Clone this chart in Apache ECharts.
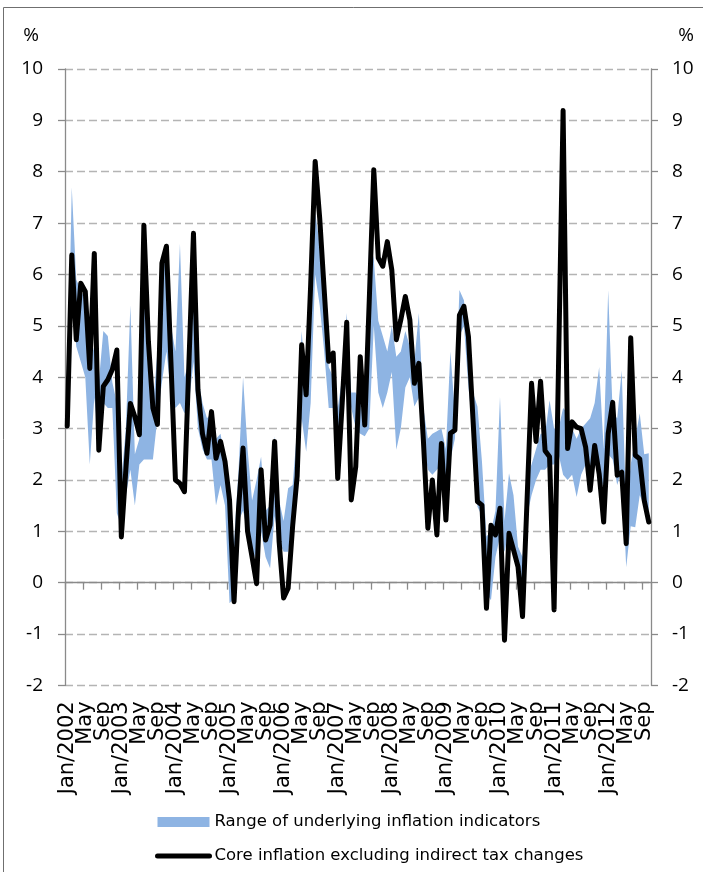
<!DOCTYPE html>
<html>
<head>
<meta charset="utf-8">
<style>
  html, body { margin: 0; padding: 0; background: #ffffff; }
  #chart { width: 703px; height: 872px; }
</style>
<script src="https://cdn.jsdelivr.net/npm/echarts/dist/echarts.min.js"></script>
</head>
<body>
<div id="chart"></div>
<script>
// Monthly observations, Jan 2002 – Oct 2012 (130 months)
const years = [2002, 2003, 2004, 2005, 2006, 2007, 2008, 2009, 2010, 2011, 2012];
const monthNames = ['Jan', 'Feb', 'Mar', 'Apr', 'May', 'Jun', 'Jul', 'Aug', 'Sep', 'Oct', 'Nov', 'Dec'];

// Axis labels shown every fourth month
const tickLabels = [
  'Jan/2002', 'May', 'Sep', 'Jan/2003', 'May', 'Sep', 'Jan/2004', 'May', 'Sep',
  'Jan/2005', 'May', 'Sep', 'Jan/2006', 'May', 'Sep', 'Jan/2007', 'May', 'Sep',
  'Jan/2008', 'May', 'Sep', 'Jan/2009', 'May', 'Sep', 'Jan/2010', 'May', 'Sep',
  'Jan/2011', 'May', 'Sep', 'Jan/2012', 'May', 'Sep'
];

// Core inflation excluding indirect tax changes, % (monthly)
const coreInflation = [
  3.05, 6.38, 4.73, 5.83, 5.67, 4.17, 6.41, 2.58, 3.82, 3.95,
  4.15, 4.53, 0.89, 2.2, 3.49, 3.23, 2.88, 6.96, 4.7, 3.4,
  3.08, 6.22, 6.55, 4.3, 2.0, 1.93, 1.77, 4.3, 6.8, 3.75,
  2.9, 2.52, 3.33, 2.42, 2.75, 2.36, 1.61, -0.37, 1.44, 2.62,
  1.0, 0.5, -0.02, 2.2, 0.83, 1.12, 2.75, 0.8, -0.3, -0.11,
  1.1, 2.07, 4.63, 3.66, 5.8, 8.2, 7.1, 5.7, 4.31, 4.47,
  2.03, 3.5, 5.07, 1.61, 2.26, 4.4, 3.07, 5.5, 8.04, 6.32,
  6.16, 6.64, 6.09, 4.73, 5.12, 5.57, 5.12, 3.88, 4.27, 2.78,
  1.06, 2.0, 0.93, 2.71, 1.22, 2.91, 2.97, 5.21, 5.38, 4.79,
  3.2, 1.58, 1.51, -0.5, 1.12, 0.93, 1.45, -1.12, 0.96, 0.64,
  0.31, -0.66, 1.6, 3.88, 2.75, 3.92, 2.57, 2.45, -0.53, 4.3,
  9.19, 2.61, 3.13, 3.03, 3.0, 2.64, 1.8, 2.67, 2.12, 1.18,
  2.9, 3.51, 2.09, 2.15, 0.76, 4.77, 2.48, 2.41, 1.6, 1.18
];

// Lowest of the underlying inflation indicators, %
const rangeLow = [
  3.0, 5.6, 4.6, 4.3, 4.0, 2.3, 3.6, 2.8, 3.5, 3.4,
  3.4, 1.35, 1.1, 1.7, 2.2, 1.5, 2.3, 2.4, 2.4, 2.4,
  3.2, 3.9, 4.5, 3.7, 3.4, 3.5, 3.3, 3.5, 4.3, 3.0,
  2.6, 2.4, 2.4, 1.5, 1.9, 1.5, -0.4, -0.3, 1.2, 1.4,
  1.0, 0.4, 0.6, 1.0, 0.5, 0.28, 1.3, 0.8, 0.6, 0.6,
  1.2, 1.9, 3.2, 2.55, 3.5, 6.0, 5.4, 4.5, 3.4, 3.4,
  2.1, 3.3, 4.0, 3.4, 3.0, 2.9, 2.85, 3.0, 5.0, 3.7,
  3.4, 3.7, 4.1, 2.59, 3.0, 3.8, 4.0, 3.43, 3.6, 2.7,
  2.2, 2.1, 2.2, 2.3, 1.5, 2.4, 2.8, 4.8, 5.0, 3.8,
  3.0, 1.48, 1.3, -0.2, -0.34, 0.5, 0.9, 0.6, 1.0, 0.5,
  0.3, 0.0, 1.3, 1.7, 2.0, 2.2, 2.2, 2.3, 2.3, 2.5,
  2.1, 2.0, 2.1, 1.67, 2.1, 2.3, 2.0, 2.3, 2.2, 1.8,
  2.5, 2.4, 1.9, 2.2, 0.3, 1.1, 1.08, 1.7, 1.5, 1.4
];

// Highest of the underlying inflation indicators, %
const rangeHigh = [
  3.4, 7.7, 5.9, 5.7, 5.5, 4.3, 4.6, 3.9, 4.9, 4.8,
  3.9, 3.5, 2.0, 3.0, 5.4, 2.5, 2.8, 5.8, 5.3, 3.4,
  4.5, 6.0, 6.4, 5.0, 4.5, 6.6, 4.0, 4.3, 6.3, 4.0,
  3.5, 3.2, 3.3, 2.8, 2.9, 2.4, 1.7, 0.8, 2.2, 4.0,
  2.6, 1.6, 2.0, 2.45, 1.4, 1.5, 2.85, 1.6, 1.2, 1.84,
  1.9, 3.0, 4.9, 3.7, 6.2, 7.2, 6.6, 5.5, 4.2, 4.0,
  3.4, 4.0, 5.25, 3.7, 3.7, 3.5, 3.1, 6.7, 6.3, 5.1,
  4.8, 4.5, 5.0, 4.4, 4.5, 4.9, 4.6, 4.3, 5.25, 3.4,
  2.8, 2.9, 2.95, 3.0, 2.6, 4.5, 3.3, 5.7, 5.5, 4.6,
  3.7, 3.43, 2.36, 0.9, 1.0, 1.4, 3.62, 1.2, 2.13, 1.7,
  0.7, 0.5, 2.06, 2.3, 2.6, 2.9, 2.9, 3.55, 3.0, 3.0,
  3.4, 3.3, 3.0, 2.8, 3.0, 3.1, 3.2, 3.5, 4.2, 2.6,
  5.7, 3.3, 3.2, 4.13, 1.4, 2.3, 2.8, 3.3, 2.5, 2.52
];

const RANGE_NAME = 'Range of underlying inflation indicators';
const CORE_NAME = 'Core inflation excluding indirect tax changes';

// Month categories
const months = [];
years.forEach(function (y) {
  monthNames.forEach(function (m) {
    if (months.length < coreInflation.length) months.push(m + '/' + y);
  });
});

// Band thickness stacked on top of the lower bound
const rangeSpan = rangeHigh.map(function (h, i) { return +(h - rangeLow[i]).toFixed(3); });

const BAND_BLUE = '#8EB4E3';
const AXIS_GREY = '#8a8a8a';
const numFont = '"Open Sans", "Noto Sans", sans-serif';
const textFont = '"DejaVu Sans", Verdana, sans-serif';

// Month labels sit every fourth month; they are split over two label rows
// at the same place so that neighbouring labels never collide.
function labelAxis(offsetMonths) {
  return {
    type: 'category',
    data: months,
    boundaryGap: true,
    position: 'bottom',
    axisLine: { show: false, onZero: false },
    axisTick: { show: false },
    splitLine: { show: false },
    axisLabel: {
      interval: function (index) { return index % 8 === offsetMonths; },
      rotate: 90,
      margin: 16,
      hideOverlap: false,
      showMinLabel: true,
      showMaxLabel: true,
      color: '#000',
      fontFamily: textFont,
      fontSize: 21,
      formatter: function (value, index) { return tickLabels[Math.round(index / 4)] || ''; }
    }
  };
}

const valueAxisBase = {
  type: 'value',
  min: -2,
  max: 10,
  interval: 1,
  axisLine: { show: true, lineStyle: { color: AXIS_GREY, width: 1.3 } },
  axisTick: { show: true, inside: false, length: 7, lineStyle: { color: AXIS_GREY, width: 1.3 } },
  axisLabel: { color: '#000', fontFamily: numFont, fontSize: 19 }
};

const chart = echarts.init(document.getElementById('chart'), null, { renderer: 'canvas' });

chart.setOption({
  animation: false,
  backgroundColor: '#ffffff',
  textStyle: { fontFamily: textFont },
  grid: { left: 65, right: 52, top: 69, bottom: 186.6, containLabel: false, outerBoundsMode: 'none' },
  xAxis: [
    {
      // axis line drawn through zero, with a tick every four months
      type: 'category',
      data: months,
      boundaryGap: true,
      position: 'bottom',
      axisLine: { show: true, onZero: true, lineStyle: { color: AXIS_GREY, width: 1.3 } },
      axisTick: { show: true, interval: 3, length: 7, lineStyle: { color: AXIS_GREY, width: 1.3 } },
      axisLabel: { show: false },
      splitLine: { show: false }
    },
    labelAxis(0),
    labelAxis(4)
  ],
  yAxis: [
    Object.assign({}, valueAxisBase, {
      position: 'left',
      axisLabel: Object.assign({}, valueAxisBase.axisLabel, { margin: 22 }),
      splitLine: { show: true, lineStyle: { color: '#b4b4b4', width: 1.3, type: [8, 4] } }
    }),
    Object.assign({}, valueAxisBase, {
      position: 'right',
      axisLabel: Object.assign({}, valueAxisBase.axisLabel, { margin: 21 }),
      splitLine: { show: false }
    })
  ],
  legend: {
    orient: 'vertical',
    left: 155,
    top: 812,
    padding: 0,
    itemGap: 14,
    itemWidth: 52,
    itemHeight: 10,
    selectedMode: false,
    textStyle: { fontFamily: textFont, fontSize: 16.5, color: '#000', lineHeight: 20 },
    data: [
      { name: RANGE_NAME, icon: 'rect', itemStyle: { color: BAND_BLUE } },
      {
        name: CORE_NAME,
        lineStyle: { color: '#000', width: 5, cap: 'round' },
        itemStyle: { color: 'rgba(0,0,0,0)', borderColor: 'rgba(0,0,0,0)', borderWidth: 0 }
      }
    ]
  },
  graphic: [
    {
      type: 'polyline',
      silent: true,
      shape: { points: [[3.5, 872], [3.5, 7.5], [703, 7.5]] },
      style: { stroke: '#6f6f6f', lineWidth: 1, fill: null }
    },
    {
      type: 'text', x: 31, y: 36, silent: true,
      style: { text: '%', font: '19px "Open Sans"', fill: '#000', align: 'center', verticalAlign: 'middle' }
    },
    {
      type: 'text', x: 686, y: 36, silent: true,
      style: { text: '%', font: '19px "Open Sans"', fill: '#000', align: 'center', verticalAlign: 'middle' }
    }
  ],
  series: [
    {
      name: 'rangeLow',
      type: 'line',
      data: rangeLow,
      stack: 'range',
      stackStrategy: 'all',
      symbol: 'none',
      silent: true,
      lineStyle: { width: 0, opacity: 0 },
      z: 1
    },
    {
      name: RANGE_NAME,
      type: 'line',
      data: rangeSpan,
      stack: 'range',
      stackStrategy: 'all',
      symbol: 'none',
      silent: true,
      itemStyle: { color: BAND_BLUE },
      lineStyle: { width: 0, opacity: 0 },
      areaStyle: { color: BAND_BLUE, opacity: 1 },
      z: 2
    },
    {
      name: CORE_NAME,
      type: 'line',
      data: coreInflation,
      symbol: 'none',
      silent: true,
      itemStyle: { color: '#000' },
      lineStyle: { color: '#000', width: 5, join: 'round', cap: 'round' },
      z: 3
    }
  ]
});
</script>
</body>
</html>
